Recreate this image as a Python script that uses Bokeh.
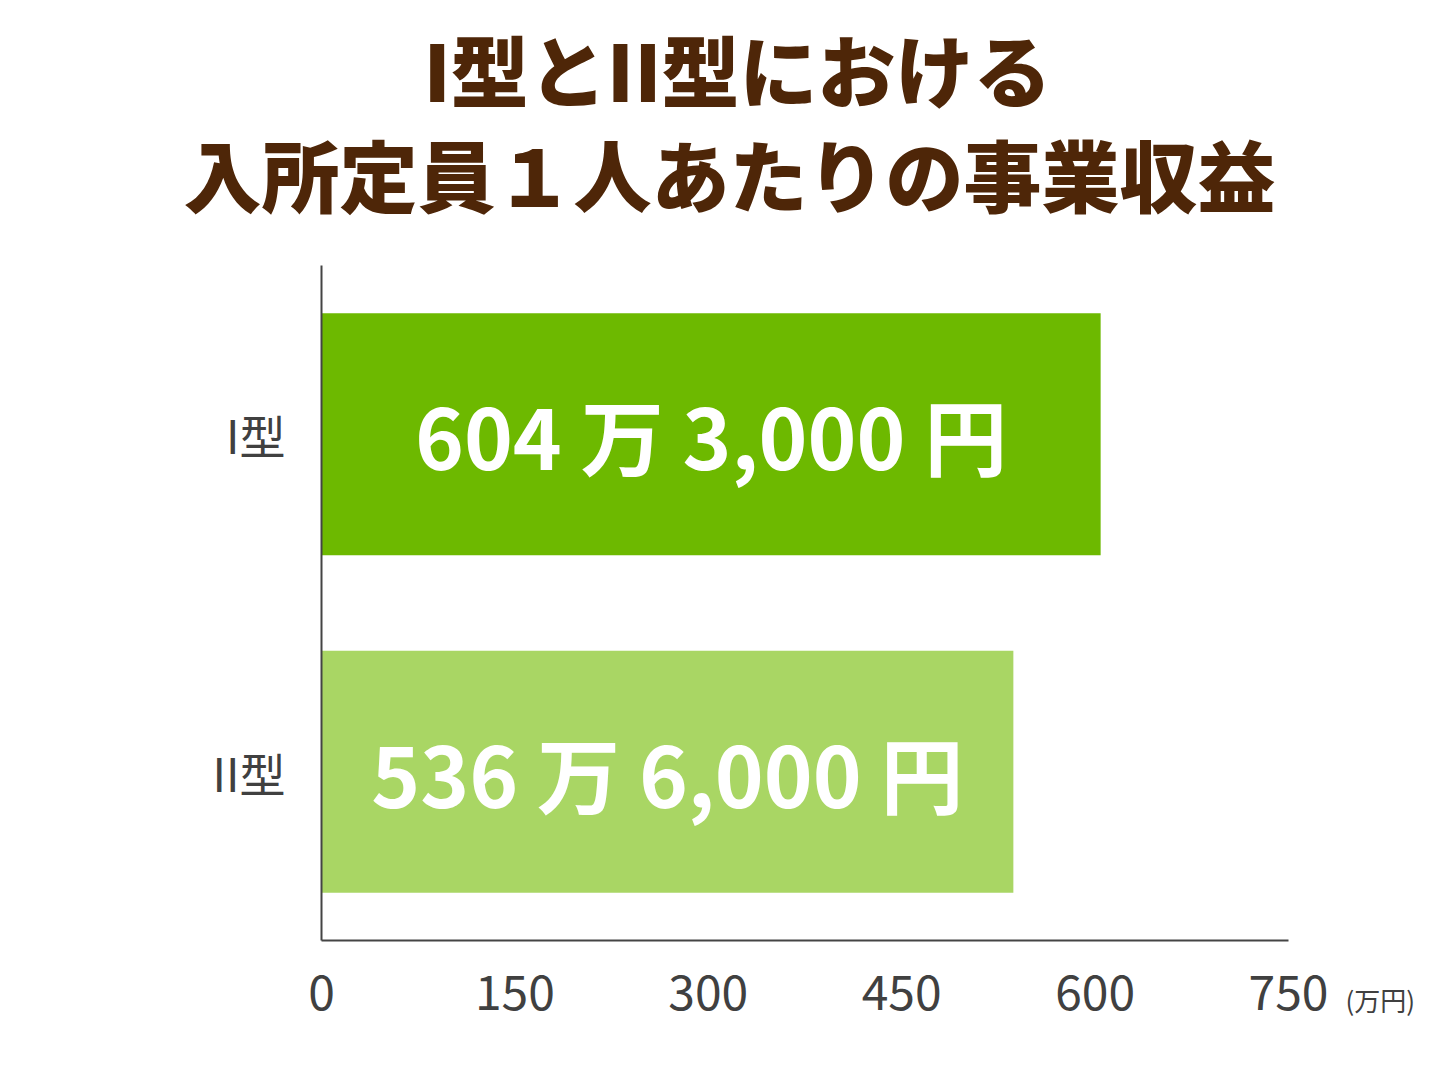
from bokeh.plotting import figure
from bokeh.models import Range1d, FactorRange, FixedTicker, Label, ColumnDataSource
from bokeh.core.properties import value
from bokeh.embed import file_html
from bokeh.resources import INLINE

categories = ["II型", "I型"]
values = [536.6, 604.3]
bar_texts = ["536 万 6,000 円", "604 万 3,000 円"]
colors = ["#A9D664", "#6DB900"]
ticks = [0, 150, 300, 450, 600, 750]
title_lines = ["I型とII型における", "入所定員１人あたりの事業収益"]
unit_text = "(万円)"

FONT = "Noto Sans CJK JP"
HEAVY = "'Noto Sans CJK JP Black', 'Noto Sans CJK JP'"

W, H = 1436, 1073
p = figure(width=W, height=H, output_backend="svg", toolbar_location=None,
           y_range=FactorRange(*categories, range_padding=0), x_range=Range1d(0, 750),
           min_border_left=321, min_border_right=148, min_border_top=265, min_border_bottom=133)
p.outline_line_color = None
p.grid.grid_line_color = None
p.title.visible = False

# line 2 is placed first (nearest the plot), line 1 above it
for line, lx, ly in [(title_lines[1], 408, 93), (title_lines[0], 416, 86)]:
    p.add_layout(Label(x=lx, y=ly, x_units="screen", y_units="screen", text=line,
                       text_font=HEAVY, text_font_style="bold", text_font_size="78px",
                       text_color="#4E2608", text_align="center", text_baseline="middle"),
                 "above")

src = ColumnDataSource(dict(cat=categories, val=values, half=[v / 2 for v in values],
                            txt=bar_texts, col=colors))
p.hbar(y="cat", left=0, right="val", height=0.717, color="col", line_color=None, source=src)
p.text(x="half", y="cat", text="txt", text_color="white", text_font=value(FONT),
       text_font_style="bold", text_font_size="83px", text_align="center",
       text_baseline="middle", source=src)

xa = p.xaxis[0]
xa.ticker = FixedTicker(ticks=ticks)
xa.major_tick_line_color = None
xa.minor_tick_line_color = None
xa.axis_line_color = "#444444"
xa.axis_line_width = 2
xa.major_label_text_font = FONT
xa.major_label_text_font_size = "48px"
xa.major_label_text_color = "#404040"
xa.major_label_standoff = 28

ya = p.yaxis[0]
ya.major_tick_line_color = None
ya.minor_tick_line_color = None
ya.axis_line_color = "#444444"
ya.axis_line_width = 2
ya.major_label_text_font = FONT
ya.major_label_text_font_size = "46px"
ya.major_label_text_color = "#404040"
ya.major_label_standoff = 30

p.add_layout(Label(x=1024, y=50, x_units="screen", y_units="screen", text=unit_text,
                   text_font=FONT, text_font_size="26px", text_color="#404040",
                   text_baseline="middle", text_align="left"), "below")

open("out.html", "w").write(file_html(p, INLINE))
